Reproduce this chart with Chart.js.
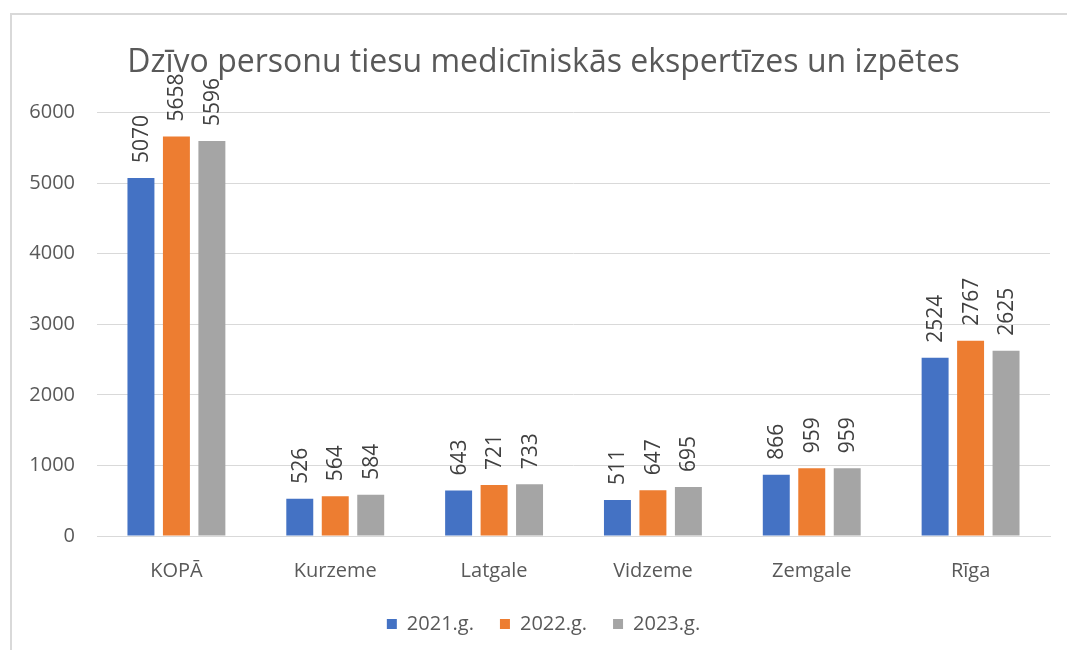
<!DOCTYPE html>
<html>
<head>
<meta charset="utf-8">
<script src="https://cdn.jsdelivr.net/npm/chart.js@4.4.1/dist/chart.umd.min.js"></script>
<style>
  html, body { margin: 0; padding: 0; background: #ffffff; }
  body { width: 1067px; height: 650px; position: relative; overflow: hidden; }
  #frame { position: absolute; left: 10px; top: 13px; width: 1080px; height: 660px;
           border-left: 2px solid #d9d9d9; border-top: 2px solid #d9d9d9; box-sizing: border-box; }
  #wrap { position: absolute; left: 20px; top: 0; width: 1047px; height: 650px; }
</style>
</head>
<body>
<div id="frame"></div>
<div id="wrap"><canvas id="c" width="1047" height="650"></canvas></div>
<script>
const titleText = 'Dzīvo personu tiesu medicīniskās ekspertīzes un izpētes';
const categories = ['KOPĀ', 'Kurzeme', 'Latgale', 'Vidzeme', 'Zemgale', 'Rīga'];
const seriesNames = ['2021.g.', '2022.g.', '2023.g.'];
const values2021 = [5070, 526, 643, 511, 866, 2524];
const values2022 = [5658, 564, 721, 647, 959, 2767];
const values2023 = [5596, 584, 733, 695, 959, 2625];
const yTicks = [0, 1000, 2000, 3000, 4000, 5000, 6000];
const colors = ['#4472C4', '#ED7D31', '#A5A5A5'];

const FONT = "'Open Sans', 'DejaVu Sans', sans-serif";

const valueLabels = {
  id: 'valueLabels',
  afterDatasetsDraw(chart) {
    const ctx = chart.ctx;
    ctx.save();
    ctx.font = '21px ' + FONT;
    ctx.fillStyle = '#404040';
    ctx.textAlign = 'left';
    ctx.textBaseline = 'middle';
    chart.data.datasets.forEach((ds, i) => {
      const meta = chart.getDatasetMeta(i);
      meta.data.forEach((el, j) => {
        ctx.save();
        ctx.translate(el.x, el.y - 15);
        ctx.rotate(-Math.PI / 2);
        ctx.fillText(String(ds.data[j]), 0, 1);
        ctx.restore();
      });
    });
    ctx.restore();
  }
};

const datasets = [values2021, values2022, values2023].map((d, i) => ({
  label: seriesNames[i],
  data: d,
  backgroundColor: colors[i],
  borderWidth: 0,
  categoryPercentage: 0.67,
  barPercentage: 0.76
}));

new Chart(document.getElementById('c'), {
  type: 'bar',
  data: { labels: categories, datasets },
  plugins: [valueLabels],
  options: {
    responsive: false,
    animation: false,
    layout: { padding: { left: 0, right: 0, top: 0, bottom: 6 } },
    plugins: {
      title: {
        display: true,
        text: titleText,
        color: '#595959',
        font: { family: FONT, size: 32, weight: 'normal' },
        padding: { top: 44, bottom: 30 }
      },
      legend: {
        position: 'bottom',
        labels: {
          boxWidth: 10, boxHeight: 10,
          color: '#595959',
          font: { family: FONT, size: 20 },
          padding: 26
        }
      },
      tooltip: { enabled: false }
    },
    scales: {
      x: {
        grid: { display: false, drawTicks: true, tickLength: 19 },
        border: { display: true, color: '#d9d9d9', width: 1 },
        ticks: { color: '#595959', font: { family: FONT, size: 20 }, padding: 4.5 }
      },
      y: {
        min: 0, max: 6000,
        afterBuildTicks: s => { s.ticks = yTicks.map(v => ({ value: v })); },
        afterFit: s => { s.width = 77; },
        grid: { color: '#d9d9d9', drawTicks: false, lineWidth: 1 },
        border: { display: false },
        ticks: {
          color: '#595959', font: { family: FONT, size: 20 }, padding: 22,
          callback: v => String(v)
        }
      },
      y2: {
        position: 'right',
        display: true,
        afterFit: s => { s.width = 17; },
        grid: { display: false },
        border: { display: false },
        ticks: { display: false }
      }
    }
  }
});
</script>
</body>
</html>
